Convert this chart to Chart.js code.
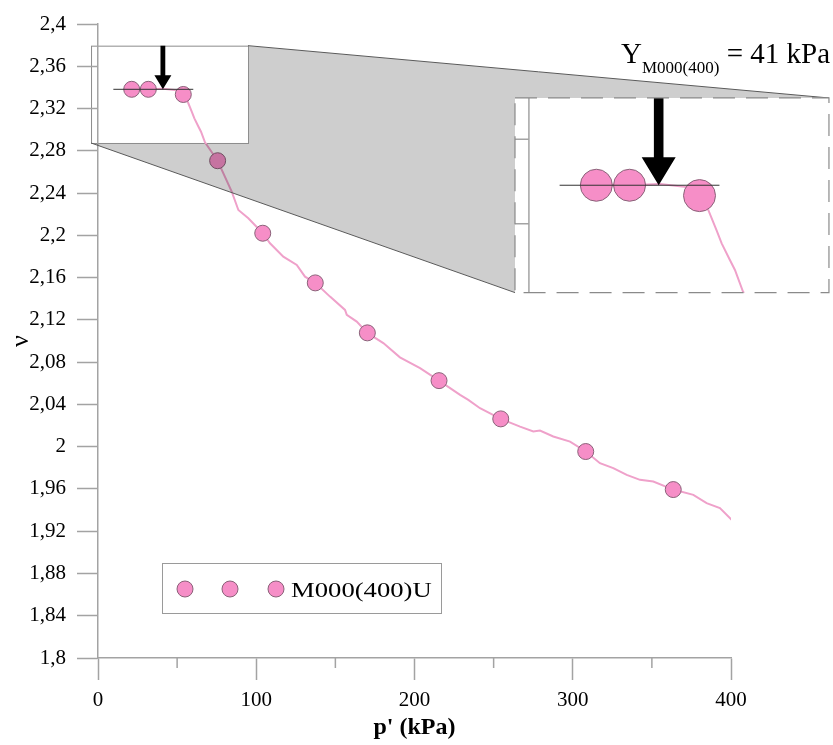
<!DOCTYPE html>
<html>
<head>
<meta charset="utf-8">
<script src="https://cdn.jsdelivr.net/npm/chart.js@4.4.1/dist/chart.umd.min.js"></script>
<style>
  html, body { margin: 0; padding: 0; background: #fff; }
  #wrap { width: 833px; height: 745px; }
</style>
</head>
<body>
<div id="wrap"><canvas id="vChart" width="833" height="745"></canvas></div>
<script>
// p' (kPa) / specific volume v
const curveP = [21.3, 31.8, 41.4, 49.8, 53.9, 56.7, 59.3, 60.9, 63.5, 65.1, 67.6, 75.6, 84.5, 88.7, 95.0,
  104.1, 108.7, 117.1, 125.6, 130.8, 137.3, 146.6, 156.1, 157.2, 163.5, 170.2, 180.3, 190.8, 203.5,
  215.5, 228.8, 234.0, 241.4, 254.5, 266.7, 275.1, 279.3, 287.7, 298.3, 308.2, 317.2, 325.6, 334.1,
  342.5, 350.9, 363.5, 376.2, 384.6, 393.0, 400.4];
const curveV = [2.3382, 2.3382, 2.3388, 2.3374, 2.3333, 2.3264, 2.3169, 2.3107, 2.3028, 2.2981, 2.2880, 2.2706, 2.2413, 2.2240, 2.2162,
  2.2020, 2.1925, 2.1798, 2.1720, 2.1609, 2.1550, 2.1420, 2.1294, 2.1247, 2.1184, 2.1077, 2.0980, 2.0845, 2.0743,
  2.0625, 2.0490, 2.0443, 2.0364, 2.0263, 2.0190, 2.0143, 2.0152, 2.0096, 2.0048, 1.9954, 1.9844, 1.9797, 1.9733,
  1.9686, 1.9670, 1.9594, 1.9544, 1.9465, 1.9418, 1.9307];

// marker series (legend shows three entries, only the last one named)
const seriesLabels = ['', '', 'M000(400)U'];
const firstP = [21.3];
const firstV = [2.3382];
const secondP = [31.8];
const secondV = [2.3382];
const markerP = [53.9, 75.6, 104.1, 137.3, 170.2, 215.5, 254.5, 308.2, 363.5];
const markerV = [2.3333, 2.2706, 2.2020, 2.1550, 2.1077, 2.0625, 2.0263, 1.9954, 1.9594];

// yield point and its tangent
const yieldP = 41;
const yieldV = 2.3382;
const tangentP = [9.7, 60.2];
const tangentV = [2.3382, 2.3382];

const xMajorStep = 100;
const xMinorTicks = [50, 150, 250, 350];
const yStep = 0.04;

// zoomed region (data units) and where its 2x copy goes
const zoomBox = { p0: -4.4, p1: 94.8, v0: 2.2874, v1: 2.3795 };
const insetAt = { p: 263.5, v: 2.33, k: 2 };

const SERIF = '"Liberation Serif", "Times New Roman", serif';
const AXIS_GREY = '#a3a3a3';
const PINK = '#f68ec7';
const PINK_EDGE = '#8a6279';
const LINE_PINK = '#efa1ca';

const toXY = (ps, vs) => ps.map((p, i) => ({ x: p, y: vs[i] }));

function boxPx(chart) {
  const x = chart.scales.x, y = chart.scales.y;
  const k = insetAt.k;
  const sx0 = x.getPixelForValue(zoomBox.p0), sx1 = x.getPixelForValue(zoomBox.p1);
  const sy0 = y.getPixelForValue(zoomBox.v1), sy1 = y.getPixelForValue(zoomBox.v0);
  const ix0 = x.getPixelForValue(insetAt.p), iy0 = y.getPixelForValue(insetAt.v);
  return { sx0, sx1, sy0, sy1, ix0, iy0, k,
    ix1: ix0 + (sx1 - sx0) * k, iy1: iy0 + (sy1 - sy0) * k };
}

function wedgePath(ctx, b) {
  ctx.beginPath();
  ctx.moveTo(b.sx1, b.sy0);
  ctx.lineTo(b.ix1, b.iy0);
  ctx.lineTo(b.ix0, b.iy1);
  ctx.lineTo(b.sx0, b.sy1);
  ctx.closePath();
}

function drawArrow(ctx, tipX, tipY, topY, s) {
  const shaft = 2.4 * s, head = 8.5 * s, headLen = 14 * s;
  ctx.beginPath();
  ctx.moveTo(tipX - shaft, topY);
  ctx.lineTo(tipX + shaft, topY);
  ctx.lineTo(tipX + shaft, tipY - headLen);
  ctx.lineTo(tipX + head, tipY - headLen);
  ctx.lineTo(tipX, tipY);
  ctx.lineTo(tipX - head, tipY - headLen);
  ctx.lineTo(tipX - shaft, tipY - headLen);
  ctx.closePath();
  ctx.fillStyle = '#000';
  ctx.fill();
}

const zoomPlugin = {
  id: 'zoomInset',
  beforeDraw(chart) {
    const ctx = chart.ctx;
    const b = boxPx(chart);
    ctx.save();
    ctx.fillStyle = '#fff';
    ctx.fillRect(b.sx0, b.sy0, b.sx1 - b.sx0, b.sy1 - b.sy0);
    ctx.strokeStyle = '#8c8c8c';
    ctx.lineWidth = 1;
    ctx.strokeRect(b.sx0 + 0.5, b.sy0 + 0.5, b.sx1 - b.sx0, b.sy1 - b.sy0);
    ctx.restore();
  },
  afterDatasetsDraw(chart) {
    const ctx = chart.ctx;
    const x = chart.scales.x, y = chart.scales.y;
    const b = boxPx(chart);

    // grey wedge, multiplied over whatever lies beneath it (not over the zoom box)
    ctx.save();
    ctx.beginPath();
    ctx.rect(0, 0, chart.width, chart.height);
    ctx.rect(b.sx0, b.sy0, b.sx1 - b.sx0 + 1, b.sy1 - b.sy0 + 1);
    ctx.clip('evenodd');
    wedgePath(ctx, b);
    ctx.globalCompositeOperation = 'multiply';
    ctx.fillStyle = '#cecece';
    ctx.fill();
    ctx.restore();

    ctx.save();
    ctx.strokeStyle = '#5a5a5a';
    ctx.lineWidth = 1;
    ctx.beginPath();
    ctx.moveTo(b.sx1, b.sy0); ctx.lineTo(b.ix1, b.iy0);
    ctx.moveTo(b.sx0, b.sy1); ctx.lineTo(b.ix0, b.iy1);
    ctx.stroke();

    // minor ticks on p'
    ctx.strokeStyle = AXIS_GREY;
    ctx.lineWidth = 1.5;
    ctx.beginPath();
    xMinorTicks.forEach(v => {
      const px = x.getPixelForValue(v);
      ctx.moveTo(px, y.bottom);
      ctx.lineTo(px, y.bottom + 10);
    });
    ctx.stroke();
    drawArrow(ctx, x.getPixelForValue(yieldP), y.getPixelForValue(yieldV), b.sy0, 1);
    ctx.restore();
  },
  afterDraw(chart) {
    const ctx = chart.ctx;
    const x = chart.scales.x, y = chart.scales.y;
    const b = boxPx(chart);
    const k = b.k;
    const mx = px => b.ix0 + (px - b.sx0) * k;
    const my = py => b.iy0 + (py - b.sy0) * k;

    // magnified copy of the zoomed box
    ctx.save();
    ctx.fillStyle = '#fff';
    ctx.fillRect(b.ix0, b.iy0, b.ix1 - b.ix0, b.iy1 - b.iy0);
    ctx.beginPath();
    ctx.rect(b.ix0, b.iy0, b.ix1 - b.ix0, b.iy1 - b.iy0);
    ctx.clip();

    ctx.strokeStyle = AXIS_GREY;
    ctx.lineWidth = 1.5;
    ctx.beginPath();
    const ax = mx(x.getPixelForValue(0));
    ctx.moveTo(ax, b.iy0); ctx.lineTo(ax, b.iy1);
    y.ticks.forEach(t => {
      const ty = my(y.getPixelForValue(t.value));
      ctx.moveTo(ax - 21 * k, ty); ctx.lineTo(ax, ty);
    });
    ctx.stroke();

    const curveMeta = chart.getDatasetMeta(4);
    ctx.strokeStyle = LINE_PINK;
    ctx.lineWidth = 2;
    ctx.beginPath();
    curveMeta.data.forEach((pt, i) => {
      if (i === 0) ctx.moveTo(mx(pt.x), my(pt.y));
      else ctx.lineTo(mx(pt.x), my(pt.y));
    });
    ctx.stroke();

    [1, 2, 3].forEach(di => {
      chart.getDatasetMeta(di).data.forEach(pt => {
        ctx.beginPath();
        ctx.arc(mx(pt.x), my(pt.y), 8 * k, 0, Math.PI * 2);
        ctx.fillStyle = PINK;
        ctx.fill();
        ctx.strokeStyle = PINK_EDGE;
        ctx.lineWidth = 1;
        ctx.stroke();
      });
    });

    const tanMeta = chart.getDatasetMeta(0);
    ctx.strokeStyle = '#333';
    ctx.lineWidth = 1;
    ctx.beginPath();
    ctx.moveTo(mx(tanMeta.data[0].x), my(tanMeta.data[0].y));
    ctx.lineTo(mx(tanMeta.data[1].x), my(tanMeta.data[1].y));
    ctx.stroke();

    drawArrow(ctx, mx(x.getPixelForValue(yieldP)), my(y.getPixelForValue(yieldV)), b.iy0, k);
    ctx.restore();

    ctx.save();
    ctx.strokeStyle = '#8a8a8a';
    ctx.lineWidth = 1.2;
    ctx.setLineDash([22, 11]);
    ctx.strokeRect(b.ix0, b.iy0, b.ix1 - b.ix0, b.iy1 - b.iy0);
    ctx.restore();

    // yield annotation
    ctx.save();
    ctx.fillStyle = '#000';
    ctx.textBaseline = 'alphabetic';
    const big = '29px ' + SERIF, small = '17px ' + SERIF;
    const tail = ' = ' + yieldP + ' kPa';
    ctx.font = big;
    const wY = ctx.measureText('Y').width, wTail = ctx.measureText(tail).width;
    ctx.font = small;
    const wSub = ctx.measureText('M000(400)').width;
    let tx = 830 - (wY + wSub + wTail);
    ctx.font = big;
    ctx.fillText('Y', tx, 63);
    tx += wY;
    ctx.font = small;
    ctx.fillText('M000(400)', tx, 73);
    tx += wSub;
    ctx.font = big;
    ctx.fillText(tail, tx, 63);
    ctx.restore();

    // legend
    ctx.save();
    const lx = 162, ly = 563, lw = 279, lh = 50;
    ctx.fillStyle = '#fff';
    ctx.fillRect(lx, ly, lw, lh);
    ctx.strokeStyle = '#9a9a9a';
    ctx.lineWidth = 1;
    ctx.strokeRect(lx + 0.5, ly + 0.5, lw, lh);
    const cx = [185, 230, 276];
    [1, 2, 3].forEach((di, i) => {
      const ds = chart.data.datasets[di];
      ctx.beginPath();
      ctx.arc(cx[i], ly + 26, 8, 0, Math.PI * 2);
      ctx.fillStyle = ds.backgroundColor;
      ctx.fill();
      ctx.strokeStyle = ds.borderColor;
      ctx.lineWidth = 1;
      ctx.stroke();
      if (ds.label) {
        ctx.save();
        ctx.translate(cx[i] + 15, ly + 34);
        ctx.scale(1.27, 1);
        ctx.font = '21px ' + SERIF;
        ctx.fillStyle = '#000';
        ctx.fillText(ds.label, 0, 0);
        ctx.restore();
      }
    });
    ctx.restore();
  }
};

const markerStyle = {
  backgroundColor: PINK,
  borderColor: PINK_EDGE,
  borderWidth: 1,
  pointRadius: 8,
  pointHoverRadius: 8,
  showLine: false
};

new Chart(document.getElementById('vChart').getContext('2d'), {
  type: 'scatter',
  data: {
    datasets: [
      {
        label: 'tangent',
        data: toXY(tangentP, tangentV),
        showLine: true,
        borderColor: '#333',
        borderWidth: 1,
        pointRadius: 0,
        order: 0
      },
      Object.assign({ label: seriesLabels[0], data: toXY(firstP, firstV), order: 1 }, markerStyle),
      Object.assign({ label: seriesLabels[1], data: toXY(secondP, secondV), order: 1 }, markerStyle),
      Object.assign({ label: seriesLabels[2], data: toXY(markerP, markerV), order: 1 }, markerStyle),
      {
        label: 'curve',
        data: toXY(curveP, curveV),
        showLine: true,
        borderColor: LINE_PINK,
        borderWidth: 2,
        pointRadius: 0,
        tension: 0,
        order: 2
      }
    ]
  },
  options: {
    responsive: false,
    animation: false,
    devicePixelRatio: 1,
    layout: { padding: { top: 24, right: 102, left: 0, bottom: 0 } },
    plugins: {
      legend: { display: false },
      tooltip: { enabled: false }
    },
    scales: {
      x: {
        type: 'linear',
        min: 0,
        max: 400,
        afterFit: s => { s.height = 87; },
        ticks: { stepSize: xMajorStep, color: '#000', font: { family: SERIF, size: 21 }, padding: 8 },
        grid: { drawOnChartArea: false, tickLength: 22, tickColor: AXIS_GREY, tickWidth: 1.5 },
        border: { color: AXIS_GREY, width: 1.5 },
        title: {
          display: true,
          text: "p' (kPa)",
          color: '#000',
          font: { family: SERIF, size: 24, weight: 'bold' },
          padding: { top: 0, bottom: 3 }
        }
      },
      y: {
        type: 'linear',
        min: 1.8,
        max: 2.4,
        afterFit: s => { s.width = 98; },
        ticks: {
          stepSize: yStep,
          color: '#000',
          font: { family: SERIF, size: 21 },
          padding: 11,
          callback: v => String(parseFloat(Number(v).toFixed(2))).replace('.', ',')
        },
        grid: { drawOnChartArea: false, tickLength: 21, tickColor: AXIS_GREY, tickWidth: 1.5 },
        border: { color: AXIS_GREY, width: 1.5 },
        title: {
          display: true,
          text: 'ν',
          color: '#000',
          font: { family: SERIF, size: 26 },
          padding: { top: 6, bottom: 0 }
        }
      }
    }
  },
  plugins: [zoomPlugin]
});
</script>
</body>
</html>
